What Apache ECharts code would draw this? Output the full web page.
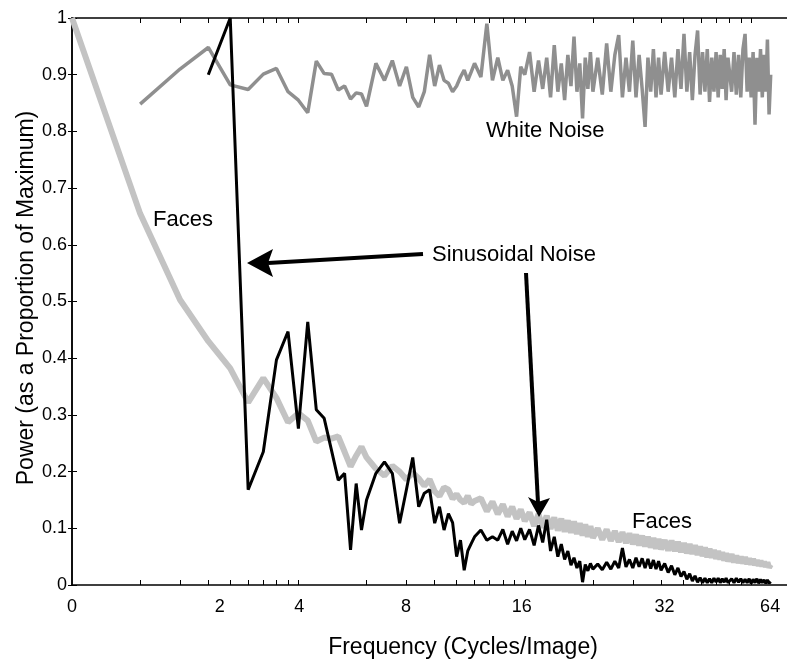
<!DOCTYPE html>
<html>
<head>
<meta charset="utf-8">
<script src="https://cdn.jsdelivr.net/npm/echarts@6/dist/echarts.min.js"></script>
<style>
html, body { margin: 0; padding: 0; background: #fff; }
#container { width: 787px; height: 663px; }
</style>
</head>
<body>
<div id="container"></div>
<script>
// frequency samples (log axis)
var freq = [1,2,3,4,5,6,7,8,9,10,11,12,13,14,15,16,17,18,19,20,
    22,24,26,28,30,32,34,36,38,40,42,44,46,48,50,52,54,56,58,60,
    64,68,72,76,80,84,88,92,96,100,
    105,110,115,120,125,130,135,140,145,150,155,160,165,170,175,180,185,190,195,200,
    210,220,230,240,250,260,270,280,290,300,310,320,330,340,350,360,370,380,390,400,
    415,430,445,460,475,490,505,520,535,550,565,580,595,610,625,640,655,670,685,700,715,730,745,760,775,790,
    820,840,860,880,900,920,940,960,980,1000,1020,1040,1060,1080,1100,1120,1140,1160,1180,1200,1220];

var faces = [1.0,0.655,0.503,0.43,0.382,0.322,0.365,0.33,0.287,0.303,0.29,0.253,0.26,0.258,0.262,0.235,0.209,0.228,0.244,0.225,
    0.205,0.193,0.21,0.2,0.186,0.198,0.188,0.175,0.186,0.165,0.157,0.172,0.168,0.152,0.16,0.15,0.145,0.157,0.143,0.148,
    0.153,0.13,0.147,0.125,0.142,0.121,0.138,0.117,0.133,0.113,
    0.128,0.104,0.125,0.101,0.122,0.099,0.119,0.096,0.117,0.094,0.114,0.092,0.112,0.09,0.109,0.087,0.107,0.085,0.104,0.083,
    0.1,0.08,0.098,0.078,0.095,0.076,0.093,0.074,0.091,0.072,0.089,0.07,0.087,0.068,0.085,0.066,0.083,0.064,0.081,0.063,
    0.079,0.061,0.078,0.06,0.076,0.058,0.074,0.056,0.072,0.055,0.07,0.053,0.068,0.051,0.066,0.049,0.064,0.048,0.062,0.046,0.06,0.045,0.058,0.043,0.056,0.042,
    0.054,0.04,0.052,0.039,0.05,0.038,0.049,0.037,0.047,0.036,0.046,0.035,0.044,0.034,0.043,0.033,0.041,0.032,0.04,0.031,0.036];

var whiteNoise = [null,0.848,0.91,0.948,0.882,0.874,0.901,0.911,0.87,0.855,0.833,0.924,0.902,0.901,0.873,0.88,0.857,0.868,0.866,0.844,
    0.92,0.89,0.925,0.88,0.914,0.86,0.843,0.87,0.935,0.88,0.917,0.89,0.885,0.87,0.88,0.896,0.908,0.89,0.905,0.92,
    0.896,0.99,0.89,0.93,0.89,0.908,0.88,0.826,0.914,0.9,
    0.94,0.87,0.925,0.875,0.93,0.86,0.952,0.87,0.92,0.855,0.935,0.88,0.967,0.87,0.92,0.823,0.93,0.875,0.94,0.87,
    0.93,0.865,0.955,0.87,0.935,0.97,0.86,0.93,0.87,0.96,0.86,0.935,0.875,0.808,0.93,0.87,0.945,0.86,0.93,0.865,
    0.94,0.87,0.93,0.86,0.945,0.875,0.972,0.87,0.94,0.855,0.935,0.978,0.865,0.94,0.87,0.945,0.852,0.93,0.87,0.94,0.86,0.935,0.875,0.945,0.855,0.93,
    0.87,0.94,0.865,0.935,0.86,0.945,0.972,0.87,0.93,0.86,0.94,0.812,0.93,0.87,0.945,0.86,0.935,0.87,0.962,0.83,0.9];

var sinusoidal = [null,null,null,0.9,1.0,0.168,0.235,0.397,0.447,0.276,0.464,0.309,0.294,0.238,0.185,0.197,0.062,0.179,0.097,0.15,
    0.197,0.217,0.197,0.109,0.168,0.225,0.138,0.162,0.168,0.109,0.138,0.097,0.126,0.11,0.05,0.079,0.026,0.06,0.073,0.085,
    0.097,0.079,0.085,0.079,0.098,0.072,0.095,0.078,0.1,0.08,
    0.098,0.07,0.105,0.075,0.115,0.06,0.085,0.05,0.072,0.045,0.06,0.035,0.048,0.03,0.042,0.005,0.036,0.025,0.038,0.028,
    0.037,0.027,0.04,0.028,0.042,0.03,0.065,0.032,0.045,0.03,0.048,0.032,0.047,0.03,0.046,0.029,0.044,0.028,0.042,0.026,
    0.038,0.022,0.034,0.018,0.03,0.015,0.024,0.01,0.02,0.007,0.016,0.005,0.013,0.004,0.012,0.004,0.011,0.004,0.012,0.005,0.012,0.004,0.011,0.005,0.012,0.004,
    0.011,0.004,0.012,0.005,0.011,0.004,0.01,0.004,0.011,0.003,0.01,0.004,0.011,0.003,0.01,0.004,0.009,0.003,0.009,0.003,0.006];

// axis ticks / labels (in frequency units)
var tickFreq = [2,3,4,5,6,7,8,9,10,20,30,40,50,60,70,80,90,100,200,300,400,500,600,700,800,900,1000];
var labelFreq = [1, 4.49, 10.1, 29.9, 97, 414, 1213];
var xLabels = ['0','2','4','8','16','32','64'];
var xMax = 1440;

var font = 'Liberation Sans';

function pairs(ys) {
    var out = [];
    for (var i = 0; i < freq.length; i++) {
        if (ys[i] !== null) out.push([freq[i], ys[i]]);
    }
    return out;
}

var tickPos = tickFreq.map(function (f) { return Math.log10(f); });
var labelPos = labelFreq.map(function (f) { return Math.log10(f); });
var logMax = Math.log10(xMax);

var dom = document.getElementById('container');
var myChart = echarts.init(dom, null, {renderer: 'canvas'});

var option = {
    animation: false,
    backgroundColor: '#fff',
    grid: {left: 72, right: -2, top: 18, bottom: 78},
    xAxis: [{
        // data axis
        type: 'log',
        logBase: 10,
        min: 1,
        max: xMax,
        show: false,
        position: 'bottom'
    }, {
        type: 'value',
        min: 0,
        max: logMax,
        position: 'bottom',
        axisLine: {show: true, lineStyle: {color: '#000', width: 1.5}},
        axisTick: {show: true, inside: true, length: 5, customValues: tickPos,
            lineStyle: {color: '#000', width: 1}},
        axisLabel: {
            customValues: labelPos,
            margin: 13,
            color: '#000',
            fontSize: 18,
            fontFamily: font,
            formatter: function (v) {
                for (var i = 0; i < labelPos.length; i++) {
                    if (Math.abs(labelPos[i] - v) < 1e-6) return xLabels[i];
                }
                return '';
            }
        },
        splitLine: {show: false}
    }, {
        type: 'value',
        min: 0,
        max: logMax,
        position: 'top',
        axisLine: {show: true, lineStyle: {color: '#000', width: 1.5}},
        axisTick: {show: true, inside: true, length: 5, customValues: tickPos,
            lineStyle: {color: '#000', width: 1}},
        axisLabel: {show: false},
        splitLine: {show: false}
    }],
    yAxis: [{
        type: 'value',
        min: 0,
        max: 1,
        interval: 0.1,
        position: 'left',
        axisLine: {show: true, lineStyle: {color: '#000', width: 1.5}},
        axisTick: {show: true, inside: true, length: 5, lineStyle: {color: '#000'}},
        axisLabel: {margin: 5, color: '#000', fontSize: 18, fontFamily: font},
        splitLine: {show: false}
    }, {
        type: 'value',
        min: 0,
        max: 1,
        interval: 0.1,
        position: 'right',
        axisLine: {show: true, lineStyle: {color: '#000', width: 1.5}},
        axisTick: {show: true, inside: true, length: 4, lineStyle: {color: '#000'}},
        axisLabel: {show: false},
        splitLine: {show: false}
    }],
    series: [{
        name: 'Faces',
        type: 'line',
        xAxisIndex: 0,
        yAxisIndex: 0,
        showSymbol: false,
        symbol: 'none',
        lineStyle: {color: '#c3c3c3', width: 6},
        z: 2,
        data: pairs(faces)
    }, {
        name: 'White Noise',
        type: 'line',
        xAxisIndex: 0,
        yAxisIndex: 0,
        showSymbol: false,
        symbol: 'none',
        lineStyle: {color: '#8f8f8f', width: 3.5},
        z: 3,
        data: pairs(whiteNoise)
    }, {
        name: 'Sinusoidal Noise',
        type: 'line',
        xAxisIndex: 0,
        yAxisIndex: 0,
        showSymbol: false,
        symbol: 'none',
        lineStyle: {color: '#000', width: 3},
        z: 4,
        data: pairs(sinusoidal)
    }],
    graphic: [
        {type: 'text', x: 27, y: 298, rotation: Math.PI / 2,
            style: {text: 'Power (as a Proportion of Maximum)', font: '23px "Liberation Sans"', fill: '#000',
                textAlign: 'center', textVerticalAlign: 'middle'}},
        {type: 'text', x: 463, y: 648,
            style: {text: 'Frequency (Cycles/Image)', font: '23px "Liberation Sans"', fill: '#000',
                textAlign: 'center', textVerticalAlign: 'middle'}},
        {type: 'text', x: 486, y: 131,
            style: {text: 'White Noise', font: '22px "Liberation Sans"', fill: '#000',
                textAlign: 'left', textVerticalAlign: 'middle'}},
        {type: 'text', x: 153, y: 220,
            style: {text: 'Faces', font: '22px "Liberation Sans"', fill: '#000',
                textAlign: 'left', textVerticalAlign: 'middle'}},
        {type: 'text', x: 632, y: 522,
            style: {text: 'Faces', font: '22px "Liberation Sans"', fill: '#000',
                textAlign: 'left', textVerticalAlign: 'middle'}},
        {type: 'text', x: 432, y: 255,
            style: {text: 'Sinusoidal Noise', font: '22px "Liberation Sans"', fill: '#000',
                textAlign: 'left', textVerticalAlign: 'middle'}},
        // arrows
        {type: 'line', shape: {x1: 423, y1: 254, x2: 268, y2: 263},
            style: {stroke: '#000', lineWidth: 4}, z: 10},
        {type: 'polygon', shape: {points: [[247, 263], [273, 249], [268, 263], [273, 277]]},
            style: {fill: '#000'}, z: 10},
        {type: 'line', shape: {x1: 526, y1: 273, x2: 538, y2: 503},
            style: {stroke: '#000', lineWidth: 4}, z: 10},
        {type: 'polygon', shape: {points: [[539, 517], [528, 497], [538, 502], [550, 498]]},
            style: {fill: '#000'}, z: 10}
    ]
};

myChart.setOption(option, true);
</script>
</body>
</html>
